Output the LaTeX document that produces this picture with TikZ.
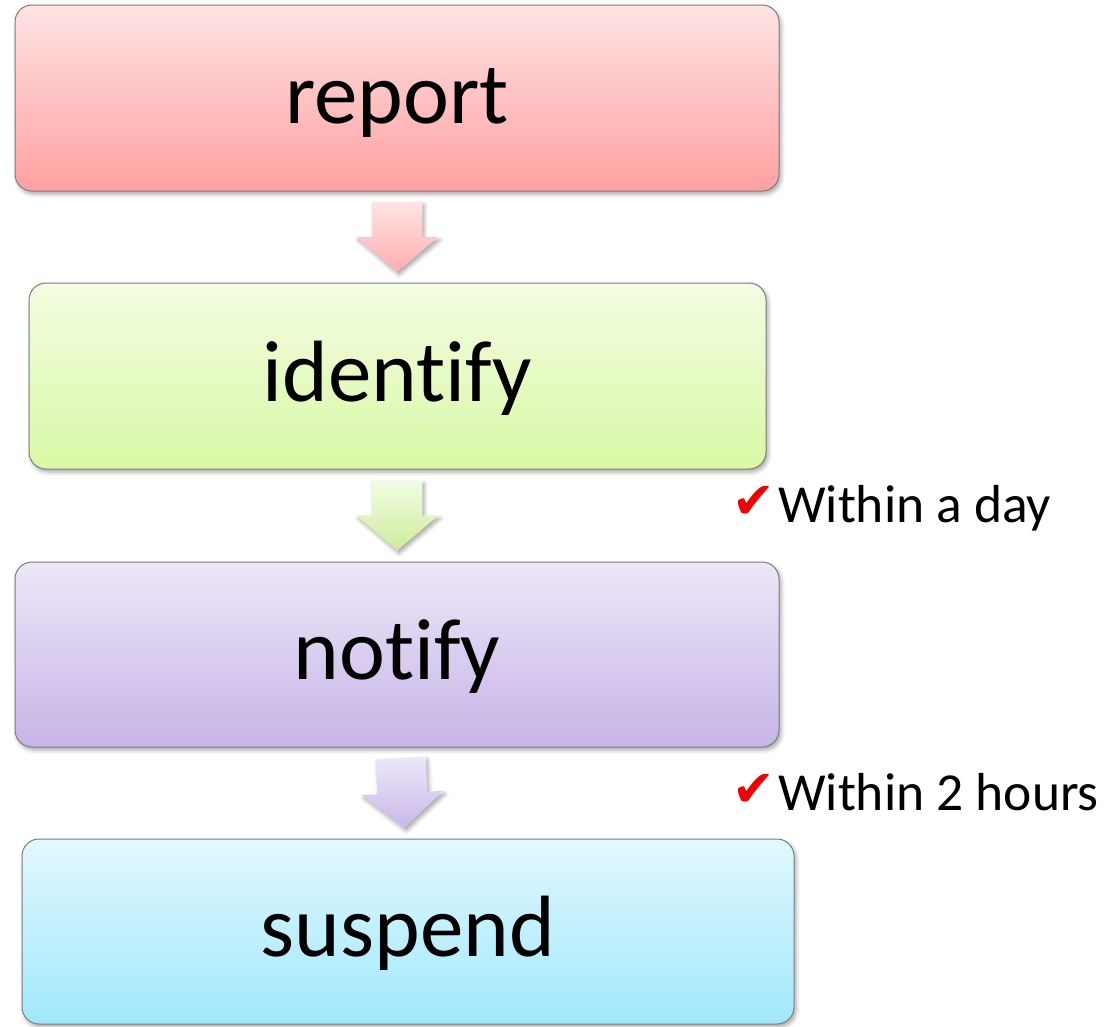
\documentclass[tikz,border=0pt]{standalone}
\usepackage{fontspec}
\setmainfont[Ligatures=NoCommon]{Carlito}
\newfontfamily\symfont{DejaVu Sans}
\usetikzlibrary{calc,shadows.blur}

% stage fills (top -> bottom)
\definecolor{reportTop}{RGB}{255,228,228}
\definecolor{reportBot}{RGB}{255,160,160}
\definecolor{identTop}{RGB}{242,253,226}
\definecolor{identBot}{RGB}{218,248,165}
\definecolor{notifyTop}{RGB}{237,231,247}
\definecolor{notifyBot}{RGB}{198,180,232}
\definecolor{suspTop}{RGB}{226,248,255}
\definecolor{suspBot}{RGB}{160,232,252}
\definecolor{boxline}{RGB}{125,125,125}
\definecolor{tickred}{RGB}{240,0,0}

\tikzset{
  softshadow/.style={blur shadow={shadow xshift=2pt, shadow yshift=-3pt,
      shadow blur radius=4pt, shadow opacity=35}},
  stagebox/.style={rounded corners=17pt, draw=boxline, line width=1pt,
      softshadow, inner sep=0pt, text height=60pt, text depth=10pt,
      font=\fontsize{87}{100}\selectfont},
  note/.style={inner sep=0pt, font=\fontsize{53.5}{60}\selectfont},
  tick/.style={inner sep=0pt, text=tickred, font=\symfont\fontsize{51}{60}\selectfont},
  arrowpink/.style={top color=reportTop, bottom color=reportBot!85!white},
  arrowgreen/.style={top color=identTop, bottom color=identBot!95!black},
  arrowpurple/.style={top color=notifyTop, bottom color=notifyBot!95!white},
  blockarrow/.pic={
    \path[#1, softshadow]
      (-25,-35) -- (25,-35) -- (25,0) -- (41,0) -- (0,35) -- (-41,0) -- (-25,0) -- cycle;
  }
}

\begin{document}
\begin{tikzpicture}[x=1pt, y=-1pt]
  \useasboundingbox (0,0) rectangle (1109,1026);

  % process stages
  \node[stagebox, minimum width=764pt, minimum height=186pt,
        top color=reportTop, bottom color=reportBot] (report) at (397,98) {report};
  \node[stagebox, minimum width=737pt, minimum height=186pt,
        top color=identTop, bottom color=identBot] (identify) at (397.5,376) {identify};
  \node[stagebox, minimum width=764pt, minimum height=185pt,
        top color=notifyTop, bottom color=notifyBot] (notify) at (397,654.5) {notify};
  \node[stagebox, minimum width=772pt, minimum height=185pt,
        top color=suspTop, bottom color=suspBot] (suspend) at (408,931.5) {suspend};

  % block arrows between stages
  \pic at ($(report.south)!0.5!(identify.north)$) {blockarrow=arrowpink};
  \pic at ($(identify.south)!0.5!(notify.north)$) {blockarrow=arrowgreen};
  \pic[rotate=3] at ($(notify.south)!0.5!(suspend.north)$) {blockarrow=arrowpurple};

  % time limits
  \node[note, anchor=base west] (daynote) at (778,522) {Within a day};
  \node[note, anchor=base west] (hournote) at (778,810) {Within 2 hours};
  \node[tick, anchor=base east] (daytick) at ($(daynote.base west)+(-3,-4)$) {✔};
  \node[tick, anchor=base east] (hourtick) at ($(hournote.base west)+(-3,-4)$) {✔};
\end{tikzpicture}
\end{document}
